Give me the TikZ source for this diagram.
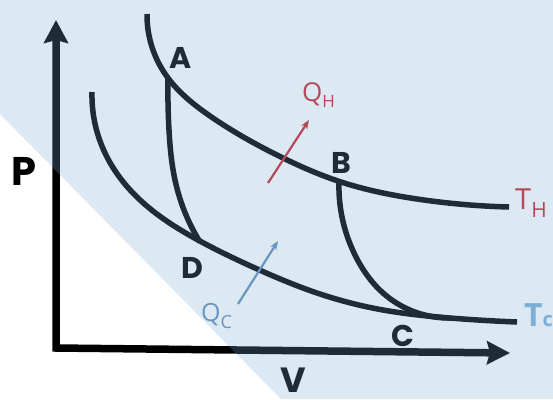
\documentclass[tikz,border=0pt]{standalone}
\usepackage{fontspec}
\newfontfamily\lblfont{Poppins}
\newfontfamily\qfont{Open Sans}
\usetikzlibrary{arrows.meta,hobby}
\definecolor{tint}{RGB}{120,168,205}
\definecolor{qred}{RGB}{200,40,50}
\definecolor{tcblue}{RGB}{125,178,220}
\definecolor{qblue}{RGB}{100,145,190}
\begin{document}
\begin{tikzpicture}[x=1pt,y=-1pt,
  curve/.style={line width=5.5pt, black, line join=round, use Hobby shortcut},
  axisline/.style={line width=7.5pt, black, line join=miter,
    {Stealth[length=23pt,width=24pt,inset=3pt]}-{Stealth[length=23pt,width=23pt,inset=3pt]}},
  ptlabel/.style={font=\lblfont\bfseries\fontsize{30}{30}\selectfont, inner sep=0pt, anchor=base, black},
  heatarrow/.style={line width=2.2pt, -{Stealth[length=9pt,width=7pt]}}
]
\useasboundingbox (0,0) rectangle (553,399);
\fill[white] (0,0) rectangle (553,399);
% axes
\coordinate (ytip) at (56,20);
\coordinate (orig) at (56,348);
\coordinate (xtip) at (510,353);
\draw[axisline] (ytip) -- (orig) -- (xtip);
% isotherms
\draw[curve] (147,14) .. (153,50) .. (168,78) .. (210,116) .. (281,157) .. (338,181) .. (417,199) .. (509,207);
\draw[curve] (92,92) .. (96,128) .. (112,166) .. (139,199) .. (198,240) .. (255,268) .. (317,293) .. (383,310) .. (450,318) .. (517,322);
% adiabats
\draw[curve] (168,78) .. (169,130) .. (175,180) .. (186,215) .. (200,242);
\draw[curve] (339,182) .. (342,217) .. (356,257) .. (383,293) .. (450,318);
% heat arrows
\coordinate (qh1) at (268,183);
\coordinate (qh2) at (309,120);
\draw[heatarrow, qred] (qh1) -- (qh2);
\coordinate (qc1) at (238,304);
\coordinate (qc2) at (278,241);
\draw[heatarrow, qblue] (qc1) -- (qc2);
% labels
\node[ptlabel] (lA) at (181,68) {A};
\node[ptlabel] (lB) at (341.5,173) {B};
\node[ptlabel] (lC) at (402.5,346) {C};
\node[ptlabel] (lD) at (192,278) {D};
\node[ptlabel, font=\lblfont\bfseries\fontsize{40}{40}\selectfont] (lP) at (24,185) {P};
\node[ptlabel, font=\lblfont\bfseries\fontsize{35}{35}\selectfont] (lV) at (293,392) {V};
\node[inner sep=0pt, anchor=base west, text=qred, font=\qfont] (lQH) at (302,101)
  {\fontsize{26}{26}\selectfont Q\raisebox{-6pt}{\fontsize{17}{17}\selectfont H}};
\node[inner sep=0pt, anchor=base west, text=qred, font=\qfont] (lTH) at (515,209)
  {\fontsize{29}{29}\selectfont T\raisebox{-8pt}{\fontsize{21}{21}\selectfont H}};
\node[inner sep=0pt, anchor=base west, text=qblue, font=\qfont] (lQC) at (201,321)
  {\fontsize{25}{25}\selectfont Q\raisebox{-7pt}{\fontsize{18}{18}\selectfont C}};
\node[inner sep=0pt, anchor=base west, text=tcblue, font=\qfont\bfseries] (lTC) at (524,326)
  {\fontsize{32}{32}\selectfont T\fontsize{20}{20}\selectfont c};
% tint overlay
\fill[tint, fill opacity=0.26] (0,0) -- (553,0) -- (553,399) -- (281,399) -- (0,114) -- cycle;
\end{tikzpicture}
\end{document}
